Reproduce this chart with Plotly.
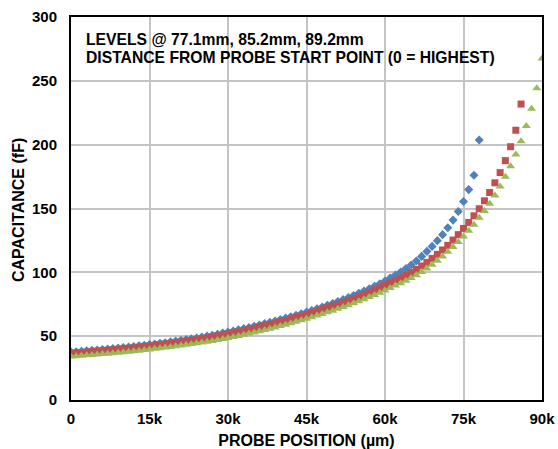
import plotly.graph_objects as go

# Probe position in micrometres (1 µm = 0.001 mm), one sample every 1000 µm
x_blue = [i * 1000 for i in range(0, 79)]
x_red = [i * 1000 for i in range(0, 87)]
x_green = [i * 1000 for i in range(0, 91)]

# Capacitance (fF) for liquid level 77.1 mm
cap_77_1 = [
    37.5, 37.8, 38.2, 38.5, 38.9, 39.2, 39.6, 39.9, 40.3, 40.7,
    41.1, 41.5, 41.9, 42.4, 42.9, 43.4, 43.9, 44.4, 44.9, 45.5,
    46.1, 46.7, 47.3, 48.0, 48.6, 49.3, 50.0, 50.7, 51.5, 52.4,
    53.2, 54.1, 55.0, 55.9, 56.8, 57.8, 58.8, 59.8, 60.8, 61.9,
    63.0, 64.1, 65.2, 66.4, 67.6, 68.8, 70.1, 71.4, 72.8, 74.2,
    75.6, 77.1, 78.6, 80.2, 81.9, 83.6, 85.3, 87.1, 89.1, 91.1,
    93.2, 95.5, 97.9, 100.3, 102.9, 105.8, 108.9, 112.5, 116.4, 120.3,
    124.8, 129.5, 134.9, 140.9, 147.7, 155.5, 164.8, 176.1, 203.7,
]

# Capacitance (fF) for liquid level 85.2 mm
cap_85_2 = [
    36.5, 36.8, 37.1, 37.5, 37.8, 38.2, 38.5, 38.9, 39.2, 39.6,
    40.0, 40.4, 40.8, 41.3, 41.8, 42.3, 42.8, 43.3, 43.8, 44.3,
    44.9, 45.4, 46.0, 46.6, 47.3, 47.9, 48.6, 49.3, 50.1, 50.9,
    51.7, 52.5, 53.4, 54.3, 55.2, 56.1, 57.1, 58.1, 59.1, 60.1,
    61.2, 62.3, 63.4, 64.6, 65.8, 67.0, 68.2, 69.5, 70.8, 72.1,
    73.5, 74.9, 76.3, 77.8, 79.4, 81.0, 82.6, 84.3, 86.1, 87.9,
    89.8, 91.7, 93.6, 95.6, 97.7, 99.8, 102.3, 105.0, 107.8, 110.9,
    114.1, 117.5, 121.1, 125.3, 129.5, 134.4, 139.1, 144.3, 149.8, 156.0,
    162.5, 170.1, 178.1, 187.5, 198.4, 211.3, 231.8,
]

# Capacitance (fF) for liquid level 89.2 mm
cap_89_2 = [
    34.0, 34.3, 34.6, 35.0, 35.3, 35.6, 36.0, 36.3, 36.7, 37.0,
    37.4, 37.8, 38.2, 38.6, 39.1, 39.6, 40.1, 40.6, 41.1, 41.6,
    42.1, 42.6, 43.2, 43.8, 44.4, 45.0, 45.6, 46.3, 47.0, 47.8,
    48.6, 49.4, 50.2, 51.1, 52.0, 52.9, 53.8, 54.8, 55.8, 56.8,
    57.9, 59.0, 60.1, 61.3, 62.5, 63.7, 64.9, 66.1, 67.4, 68.7,
    70.0, 71.4, 72.8, 74.3, 75.8, 77.4, 79.0, 80.6, 82.3, 84.0,
    85.8, 87.7, 89.6, 91.5, 93.5, 95.6, 97.7, 100.3, 103.1, 106.0,
    109.1, 112.5, 116.2, 119.8, 123.8, 128.1, 132.6, 137.3, 142.7, 148.0,
    153.7, 160.2, 167.2, 174.8, 183.1, 192.2, 202.7, 214.6, 228.1, 244.1,
    267.5,
]

x_tick_vals = [0, 15000, 30000, 45000, 60000, 75000, 90000]
x_tick_text = ["0", "15k", "30k", "45k", "60k", "75k", "90k"]
y_tick_vals = [0, 50, 100, 150, 200, 250, 300]

FONT = "Liberation Sans, Arial, Helvetica, sans-serif"
BLUE = "#4F81BD"
RED = "#C0504D"
GREEN = "#9BBB59"

fig = go.Figure()
fig.add_trace(go.Scatter(x=x_blue, y=cap_77_1, mode="markers", name="77.1mm",
                         marker=dict(symbol="diamond", size=7, color=BLUE)))
fig.add_trace(go.Scatter(x=x_red, y=cap_85_2, mode="markers", name="85.2mm",
                         marker=dict(symbol="square", size=7, color=RED)))
fig.add_trace(go.Scatter(x=x_green, y=cap_89_2, mode="markers", name="89.2mm",
                         marker=dict(symbol="triangle-up", size=8, color=GREEN)))

axis_common = dict(
    showgrid=True, gridcolor="#C4C4C4", gridwidth=2,
    showline=True, linecolor="black", linewidth=2, mirror=True,
    zeroline=False, ticks="", automargin=False,
    tickfont=dict(family=FONT, size=15, color="black", weight="bold"),
)

title_font = dict(family=FONT, size=16, color="black", weight="bold")

fig.update_xaxes(
    range=[0, 90000], tickvals=x_tick_vals, ticktext=x_tick_text,
    ticklabelstandoff=4,
    title=dict(text="PROBE POSITION (µm)", standoff=10, font=title_font),
    **axis_common,
)
fig.update_yaxes(
    range=[0, 300], tickvals=y_tick_vals,
    ticklabelstandoff=9,
    **axis_common,
)

# Vertical axis title, placed close to the tick labels
fig.add_annotation(text="CAPACITANCE (fF)", xref="paper", yref="paper",
                   x=-0.1125, y=0.496, xanchor="center", yanchor="middle",
                   textangle=-90, showarrow=False, font=title_font)

# White text panel over the grid, beneath the markers
fig.add_shape(type="rect", xref="paper", yref="paper",
              x0=0, x1=0.92, y0=0.859, y1=0.977,
              fillcolor="white", line=dict(width=0), layer="between")

label_font = dict(family=FONT, size=15.7, color="black", weight="bold")
fig.add_annotation(text="LEVELS @ 77.1mm, 85.2mm, 89.2mm", xref="paper", yref="paper",
                   x=0.028, y=0.940, xanchor="left", yanchor="middle",
                   showarrow=False, font=label_font)
fig.add_annotation(text="DISTANCE FROM PROBE START POINT (0 = HIGHEST)", xref="paper", yref="paper",
                   x=0.028, y=0.893, xanchor="left", yanchor="middle",
                   showarrow=False, font=label_font)

fig.update_layout(
    width=558, height=449,
    margin=dict(l=71, r=16, t=17, b=49),
    paper_bgcolor="white", plot_bgcolor="white",
    showlegend=False,
)

fig.write_html("out.html")
